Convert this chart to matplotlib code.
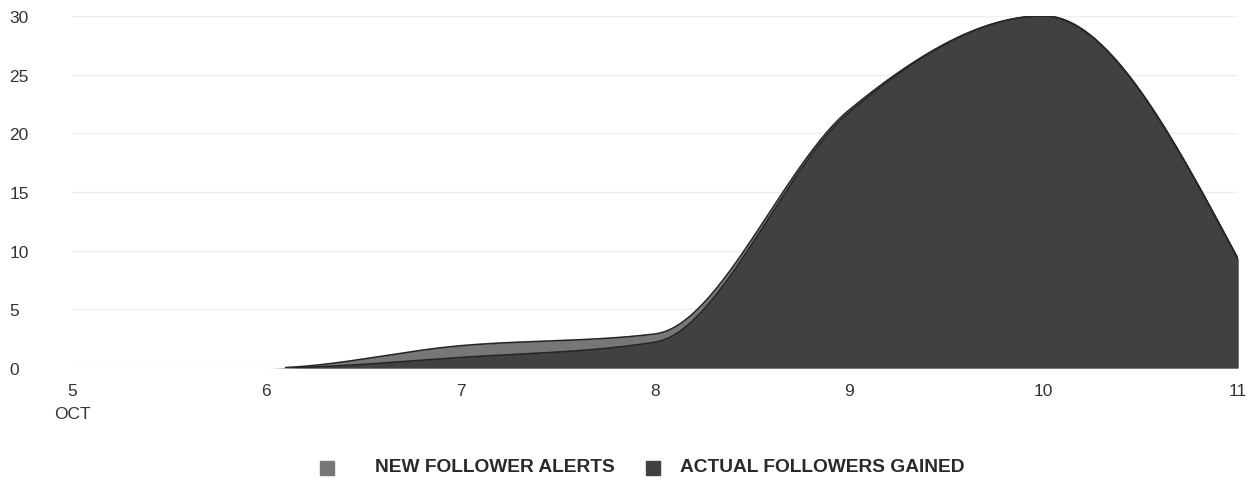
import matplotlib.pyplot as plt
from matplotlib.patches import Rectangle
import numpy as np

plt.rcParams['font.family'] = ['Liberation Sans', 'DejaVu Sans']

# daily values, 5-11 Oct
days = [5, 6, 7, 8, 9, 10, 11]
new_follower_alerts = [0, 0, 1.9, 2.9, 22.0, 30.0, 9.3]
actual_followers = [0, 0, 0.9, 2.2, 21.8, 30.0, 9.3]
x_labels = ['5\nOCT', '6', '7', '8', '9', '10', '11']
y_ticks = [0, 5, 10, 15, 20, 25, 30]
series_names = ['NEW FOLLOWER ALERTS', 'ACTUAL FOLLOWERS GAINED']
colors = ['#777777', '#414141']


# monotone cubic curve through the points (same idea as d3 monotoneX)
def monotone_curve(xs, ys, steps=60):
    xs = np.asarray(xs, float)
    ys = np.asarray(ys, float)
    h = np.diff(xs)
    s = np.diff(ys) / h
    t = np.zeros(len(xs))
    for i in range(1, len(xs) - 1):
        p = (s[i - 1] * h[i] + s[i] * h[i - 1]) / (h[i - 1] + h[i])
        t[i] = (np.sign(s[i - 1]) + np.sign(s[i])) * min(abs(s[i - 1]), abs(s[i]), 0.5 * abs(p))
    t[0] = (3 * s[0] - t[1]) / 2
    t[-1] = (3 * s[-1] - t[-2]) / 2
    cx, cy = [], []
    for i in range(len(xs) - 1):
        u = np.linspace(0, 1, steps, endpoint=False)
        h00 = 2 * u**3 - 3 * u**2 + 1
        h10 = u**3 - 2 * u**2 + u
        h01 = -2 * u**3 + 3 * u**2
        h11 = u**3 - u**2
        cx.append(xs[i] + u * h[i])
        cy.append(h00 * ys[i] + h10 * h[i] * t[i] + h01 * ys[i + 1] + h11 * h[i] * t[i + 1])
    cx.append([xs[-1]])
    cy.append([ys[-1]])
    return np.concatenate(cx), np.concatenate(cy)


fig = plt.figure(figsize=(12.57, 4.81), dpi=100)
ax = fig.add_axes([0.0573, 0.2328, 0.9276, 0.732])

for vals, col in zip([new_follower_alerts, actual_followers], colors):
    cx, cy = monotone_curve(days, vals)
    ax.fill_between(cx, 0, cy, color=col, linewidth=0, zorder=2)
    # outline only where the series is above zero
    ax.plot(cx, np.where(cy > 0.03, cy, np.nan), color='#262626', linewidth=1.2, zorder=3)

ax.set_xlim(5, 11)
ax.set_ylim(0, 30)
ax.set_xticks(days)
ax.set_xticklabels(x_labels, fontsize=12.5, color='#333333', linespacing=1.65, va='top')
ax.set_yticks(y_ticks)
ax.set_yticklabels([str(v) for v in y_ticks], fontsize=12.5, color='#333333', ha='left')
ax.tick_params(axis='x', length=0, pad=11)
ax.tick_params(axis='y', length=0, pad=45)
ax.grid(axis='y', color='#efefef', linewidth=1, zorder=0)
for sp in ax.spines.values():
    sp.set_visible(False)

# legend below the plot
W, H = 1257, 481
legend_items = [(320, 375), (646, 680)]
for (mx, tx), name, col in zip(legend_items, series_names, colors):
    fig.patches.append(Rectangle((mx / W, 1 - 476 / H), 14 / W, 14 / H,
                                 transform=fig.transFigure, color=col))
    fig.text(tx / W, 1 - 468 / H, name, fontsize=13.8, fontweight='bold',
             color='#2a2a2a', va='center', ha='left')

fig.savefig('out.png', dpi=100)
